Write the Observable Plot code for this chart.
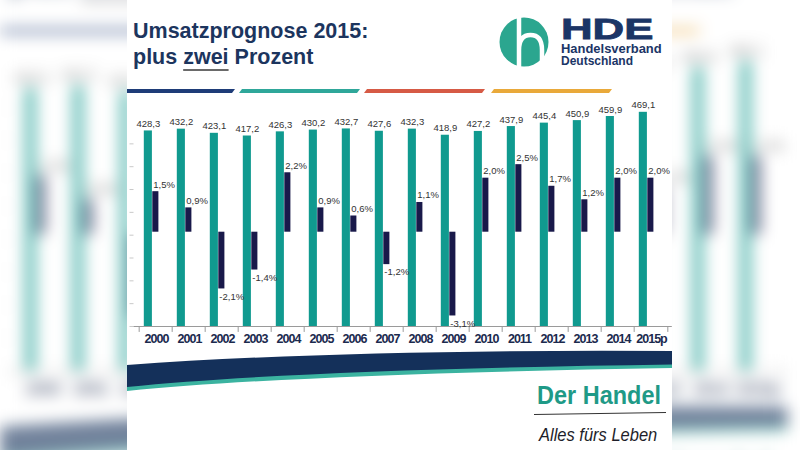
<!DOCTYPE html>
<html><head><meta charset="utf-8">
<script src="https://cdn.jsdelivr.net/npm/d3@7"></script>
<script src="https://cdn.jsdelivr.net/npm/@observablehq/plot@0.6"></script>
<style>
html,body{margin:0;padding:0;width:800px;height:450px;overflow:hidden;background:#fff;font-family:"Liberation Sans",Arial,sans-serif}
#bg{position:absolute;left:127px;top:0;width:545px;height:450px;transform-origin:285px 226px;transform:scale(1.445);filter:blur(5px);opacity:.6}
#main{position:absolute;left:127px;top:0;width:545px;height:450px;background:#fff}
.slide{position:relative;width:545px;height:450px;background:#fff;overflow:hidden}
.title{position:absolute;left:6px;top:17.5px;font-weight:bold;font-size:21.5px;line-height:26px;color:#1c355e;white-space:nowrap}
.title u{text-decoration-color:#6a6a6a;text-underline-offset:5px;text-decoration-thickness:1.5px}
.deco{position:absolute;left:0;top:0}
.chart{position:absolute;left:0;top:95px;width:545px;height:255px}
.chart svg{position:absolute;left:0;top:0}
g[aria-label="x-axis tick label"] text{letter-spacing:-1px}
</style>
</head><body>
<div id="bg"></div>
<div id="main"></div>
<script>
const years = ["2000","2001","2002","2003","2004","2005","2006","2007","2008","2009","2010","2011","2012","2013","2014","2015p"];
const sales = [428.3,432.2,423.1,417.2,426.3,430.2,432.7,427.6,432.3,418.9,427.2,437.9,445.4,450.9,459.9,469.1];
const growth = [1.5,0.9,-2.1,-1.4,2.2,0.9,0.6,-1.2,1.1,-3.1,2.0,2.5,1.7,1.2,2.0,2.0];
const salesTicks = [0,50,100,150,200,250,300,350,400];

const fmt = v => v.toFixed(1).replace(".", ",");
const data = years.map((y, i) => ({year: y, sales: sales[i], growth: growth[i]}));

const W = 545, H = 255, mL = 6.5, mR = 0.2, mT = 2.7, mB = 24;
const bw = (W - mL - mR) / years.length;
const baseFont = "'Liberation Sans', Arial, sans-serif";

function charts() {
  const wrap = document.createElement("div");
  wrap.className = "chart";
  const common = {
    width: W, height: H, marginLeft: mL, marginRight: mR, marginTop: mT, marginBottom: mB,
    style: {background: "transparent", fontFamily: baseFont, overflow: "visible"}
  };
  const tealChart = Plot.plot({
    ...common,
    x: {type: "band", domain: years, padding: 0, label: null},
    y: {domain: [0, 500], label: null},
    marks: [
      Plot.axisY({ticks: salesTicks, tickSize: 4, tickFormat: () => "", stroke: "#c9c9c9", label: null}),
      Plot.barY(data, {x: "year", y: "sales", fill: "#109a8f", insetLeft: 4.8, insetRight: 20.1}),
      Plot.ruleY([0], {stroke: "#9a9a9a"}),
      Plot.ruleX(years, {x: d => d, y1: 0, y2: -13, dx: -bw / 2, stroke: "#9a9a9a"}),
      Plot.ruleX([years[years.length - 1]], {x: d => d, y1: 0, y2: -13, dx: bw / 2, stroke: "#9a9a9a"}),
      Plot.text(data, {x: "year", y: "sales", text: d => fmt(d.sales), dx: -7.6, dy: -4, lineAnchor: "bottom", fontSize: 9.5, fill: "#333"}),
      Plot.axisX({tickSize: 0, tickPadding: 7.5, fontSize: 12.5, fontWeight: "bold", fill: "#1b2a4e", label: null, dx: 0.5})
    ]
  });
  const navyChart = Plot.plot({
    ...common,
    x: {type: "band", domain: years, padding: 0, axis: null},
    y: {domain: [-3.49, 4.96], axis: null},
    marks: [
      Plot.barY(data, {x: "year", y: "growth", fill: "#19194a", insetLeft: 13.3, insetRight: 13.6}),
      Plot.text(data.filter(d => d.growth >= 0), {x: "year", y: "growth", text: d => fmt(d.growth) + "%", textAnchor: "start", dx: -2.7, dy: -4, lineAnchor: "bottom", fontSize: 9.5, fill: "#333"}),
      Plot.text(data.filter(d => d.growth < 0), {x: "year", y: "growth", text: d => fmt(d.growth) + "%", textAnchor: "start", dx: -2.7, dy: 4, lineAnchor: "top", fontSize: 9.5, fill: "#333"})
    ]
  });
  wrap.append(tealChart, navyChart);
  return wrap;
}

function slide() {
  const s = document.createElement("div");
  s.className = "slide";
  const ns = "http://www.w3.org/2000/svg";
  const deco = document.createElementNS(ns, "svg");
  deco.setAttribute("class", "deco");
  deco.setAttribute("width", 545);
  deco.setAttribute("height", 450);
  deco.innerHTML = `
    <polygon points="0,89 108,89 105,93 0,93" fill="#1e3c78"/>
    <polygon points="115,89 233,89 230,93 112,93" fill="#2fa79a"/>
    <polygon points="240,89 358,89 355,93 237,93" fill="#d65a45"/>
    <polygon points="367,89 485,89 482,93 364,93" fill="#e9a93a"/>
    <circle cx="397" cy="42" r="24.5" fill="#2ba68f"/>
    <path d="M392,16 V68 M392,50 Q392,35 403.5,35 Q415,35 415,50 V68" fill="none" stroke="#fff" stroke-width="4.5"/>
    <path d="M0,385 Q173,368 545,363 L545,368 Q173,374 0,391 Z" fill="#3bb3a0"/>
    <path d="M0,365 Q223,349 545,351 L545,364.5 Q173,369.5 0,387 Z" fill="#14305a"/>
    <line x1="407" y1="414.5" x2="539" y2="412.5" stroke="#333" stroke-width="1"/>
    <text transform="translate(434,38.5) scale(1.46,1)" font-size="30" font-weight="bold" fill="#1b3566" stroke="#1b3566" stroke-width="0.8" font-family="'Liberation Sans', Arial, sans-serif">HDE</text>
    <text transform="translate(434,52.5) scale(1.08,1)" font-size="12" font-weight="bold" fill="#1b3566" font-family="'Liberation Sans', Arial, sans-serif">Handelsverband</text>
    <text transform="translate(434,64.5) scale(1.0,1)" font-size="12" font-weight="bold" fill="#1b3566" font-family="'Liberation Sans', Arial, sans-serif">Deutschland</text>
    <text transform="translate(410,404.3) scale(1,1.12)" font-size="23.5" font-weight="bold" fill="#1f9a87" font-family="'Liberation Sans', Arial, sans-serif">Der Handel</text>
    <text transform="translate(412,441) scale(1,1.15)" font-size="16.5" font-style="italic" fill="#1e1e2a" font-family="'Liberation Sans', Arial, sans-serif">Alles fürs Leben</text>
  `;
  s.appendChild(deco);
  const t = document.createElement("div");
  t.className = "title";
  t.innerHTML = "Umsatzprognose 2015:<br>plus <u>zwei</u> Prozent";
  s.appendChild(t);
  s.appendChild(charts());
  return s;
}

document.getElementById("bg").appendChild(slide());
document.getElementById("main").appendChild(slide());
</script>
</body></html>
